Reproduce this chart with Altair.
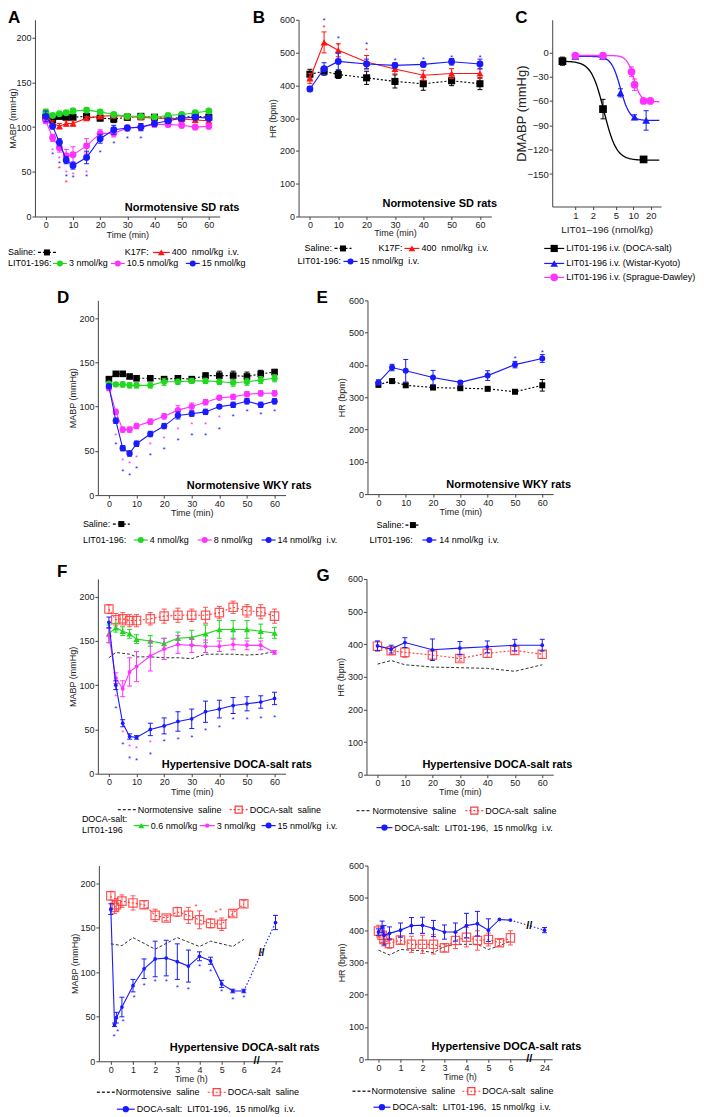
import math
import altair as alt
import pandas as pd

FONT = "Liberation Sans"
BLACK = "#000000"
GREEN = "#1fd81f"
RED = "#ff1414"
DRED = "#ff3b3b"
MAGENTA = "#ff33ff"
BLUE = "#1a1aff"
NGREY = "#333333"

# ---------------- Panel A : MABP, normotensive SD rats ----------------
A_t = [0, 2.5, 5, 7.5, 10, 15, 20, 25, 30, 35, 40, 45, 50, 55, 60]
A_saline = [111, 108, 112, 111, 111, 112, 110, 109, 111, 112, 111, 109, 111, 112, 111]
A_saline_e = [3, 3, 2, 3, 2, 3, 3, 4, 3, 3, 3, 3, 3, 3, 3]
A_k17f = [115, 104, 101, 104, 104, 110, 112, 113, 112, 111, 110, 110, 109, 108, 107]
A_k17f_e = [3, 3, 3, 3, 3, 2, 2, 3, 3, 3, 3, 3, 3, 3, 3]
A_lit3 = [117, 113, 115, 116, 118, 119, 117, 114, 112, 112, 111, 113, 114, 116, 118]
A_lit3_e = [3, 2, 2, 2, 3, 3, 2, 2, 2, 2, 2, 2, 2, 2, 2]
A_lit105 = [107, 88, 77, 68, 69, 79, 93, 93, 99, 100, 103, 103, 102, 100, 101]
A_lit105_e = [3, 4, 5, 7, 9, 8, 4, 4, 3, 4, 3, 3, 3, 3, 3]
A_lit15 = [112, 101, 83, 63, 57, 66, 87, 97, 99, 100, 104, 107, 110, 111, 110]
A_lit15_e = [6, 3, 4, 4, 4, 7, 5, 5, 3, 4, 3, 3, 3, 3, 3]
A_star_blue_t = [2.5, 5, 7.5, 10, 15, 20, 25, 30, 35]
A_star_blue_y = [72, 62, 47, 46, 47, 74, 84, 90, 90]
A_star_mag_t = [2.5, 5, 7.5, 10, 15]
A_star_mag_y = [77, 68, 52, 50, 52]
A_star_red_t = [5, 7.5]
A_star_red_y = [57, 41]

# ---------------- Panel B : HR, normotensive SD rats ----------------
B_t = [0, 5, 10, 20, 30, 40, 50, 60]
B_saline = [434, 443, 433, 423, 412, 405, 414, 405]
B_saline_e = [15, 12, 12, 20, 20, 20, 15, 18]
B_k17f = [421, 531, 507, 471, 450, 431, 436, 436]
B_k17f_e = [15, 32, 20, 20, 15, 15, 15, 15]
B_lit15 = [389, 451, 473, 465, 461, 464, 472, 465]
B_lit15_e = [8, 18, 25, 15, 8, 8, 10, 15]
B_star_blue_t = [5, 10, 20, 30, 40, 50, 60]
B_star_blue_y = [605, 551, 532, 483, 488, 493, 493]
B_star_red_t = [5, 10, 20]
B_star_red_y = [585, 530, 514]

# ---------------- Panel C : dose response ----------------
C_doca_x = [0.6, 3, 15]
C_doca_y = [-11, -70, -132]
C_doca_e = [5, 12, 2]
C_wky_x = [1, 3, 6, 10.5, 16.6]
C_wky_y = [-5, -5, -50, -80, -84]
C_wky_e = [2, 2, 5, 3, 12]
C_sd_x = [1, 3, 9.3, 10.5, 15, 19.6]
C_sd_y = [-4, -4, -24, -40, -60, -60]
C_sd_e = [2, 2, 6, 7, 3, 2]
C_fit_top = [-11, -5, -4]
C_fit_bottom = [-133, -84, -61]
C_fit_ec50 = [3.1, 6.0, 10.2]
C_fit_hill = [4.0, 5.5, 7.0]
C_fit_from = [0.6, 1, 1]
C_fit_to = [28, 28, 28]

# ---------------- Panel D : MABP, WKY ----------------
D_t = [0, 2.5, 5, 7.5, 10, 15, 20, 25, 30, 35, 40, 45, 50, 55, 60]
D_saline = [131, 137, 137, 134, 132, 132, 131, 132, 131, 135, 135, 135, 134, 137, 139]
D_saline_e = [2, 2, 2, 2, 2, 2, 2, 3, 3, 3, 5, 5, 5, 4, 3]
D_lit4 = [126, 125, 125, 124, 124, 124, 128, 128, 129, 129, 128, 127, 128, 130, 132]
D_lit4_e = [2, 2, 3, 3, 3, 3, 4, 3, 3, 3, 3, 4, 4, 4, 4]
D_lit8 = [121, 94, 74, 74, 78, 83, 89, 96, 100, 105, 110, 111, 114, 115, 115]
D_lit8_e = [3, 3, 3, 3, 3, 3, 3, 5, 4, 3, 2, 3, 3, 3, 3]
D_lit14 = [123, 84, 53, 47, 58, 69, 78, 90, 92, 94, 100, 102, 106, 102, 106]
D_lit14_e = [2, 3, 3, 3, 3, 3, 3, 4, 3, 3, 2, 3, 3, 3, 3]
D_star_blue_t = [2.5, 5, 7.5, 10, 15, 20, 25, 30, 35, 40, 45, 50, 55, 60]
D_star_blue_y = [60, 29, 25, 33, 47, 54, 65, 70, 70, 77, 92, 97, 94, 97]
D_star_mag_t = [2.5, 5, 7.5, 10, 15, 20, 25, 30, 35, 40]
D_star_mag_y = [70, 42, 38, 45, 60, 67, 77, 83, 83, 90]

# ---------------- Panel E : HR, WKY ----------------
E_t = [0, 5, 10, 20, 30, 40, 50, 60]
E_saline = [339, 350, 337, 330, 328, 326, 317, 337]
E_saline_e = [8, 6, 5, 5, 4, 4, 4, 18]
E_lit14 = [346, 392, 382, 361, 346, 367, 401, 420]
E_lit14_e = [8, 10, 35, 22, 5, 15, 10, 12]
E_star_blue_t = [50, 60]
E_star_blue_y = [428, 447]

# ---------------- Panel F : MABP, DOCA-salt (min) ----------------
F_t = [0, 2.5, 5, 7.5, 10, 15, 20, 25, 30, 35, 40, 45, 50, 55, 60]
F_norm = [131, 137, 136, 135, 132, 132, 131, 131, 130, 135, 135, 135, 134, 135, 138]
F_doca = [186, 174, 175, 173, 173, 175, 178, 179, 179, 179, 182, 188, 184, 183, 178]
F_doca_e = [5, 7, 7, 7, 7, 7, 8, 8, 7, 9, 7, 7, 7, 8, 8]
F_lit06 = [158, 165, 161, 158, 152, 150, 147, 153, 154, 158, 163, 163, 163, 161, 159]
F_lit06_e = [10, 5, 5, 5, 5, 6, 6, 7, 8, 10, 10, 10, 10, 8, 6]
F_lit3 = [156, 108, 96, 115, 121, 133, 141, 146, 145, 144, 144, 146, 145, 145, 137]
F_lit3_e = [8, 6, 9, 16, 17, 17, 12, 10, 8, 7, 6, 6, 5, 5, 2]
F_lit15 = [171, 100, 57, 42, 41, 50, 54, 59, 62, 70, 73, 77, 79, 81, 85]
F_lit15_e = [6, 5, 4, 3, 2, 7, 9, 11, 11, 12, 10, 9, 8, 7, 7]
F_star_blue_t = [2.5, 5, 7.5, 10, 15, 20, 25, 30, 35, 40, 45, 50, 55, 60]
F_star_blue_y = [77, 36, 20, 18, 25, 39, 42, 44, 52, 55, 64, 64, 65, 66]
F_star_mag_t = [2.5, 5, 7.5, 10, 15]
F_star_mag_y = [90, 49, 33, 31, 38]

# ---------------- Panel G : HR, DOCA-salt (min) ----------------
G_t = [0, 5, 10, 20, 30, 40, 50, 60]
G_norm = [339, 350, 337, 330, 328, 326, 317, 337]
G_doca = [394, 380, 375, 367, 356, 372, 381, 369]
G_doca_e = [15, 12, 15, 15, 8, 12, 12, 12]
G_lit15 = [395, 385, 405, 383, 388, 392, 397, 397]
G_lit15_e = [15, 12, 15, 33, 20, 18, 18, 18]

# ---------------- Panel H : MABP, DOCA-salt (h) ----------------
H_t = [0, 0.167, 0.25, 0.5, 1, 1.5, 2, 2.5, 3, 3.5, 4, 4.5, 5, 5.5, 6, 24]
H_lit15 = [171, 41, 49, 61, 85, 104, 115, 116, 112, 107, 118, 113, 87, 79, 79, 156]
H_lit15_e = [6, 2, 6, 11, 7, 11, 20, 20, 20, 18, 5, 4, 4, 2, 2, 8]
H_doca_t = [0, 0.167, 0.25, 0.5, 1, 1.5, 2, 2.5, 3, 3.5, 4, 4.5, 5, 5.5, 6]
H_doca = [186, 173, 176, 180, 178, 176, 164, 161, 168, 164, 159, 155, 154, 166, 177]
H_doca_e = [5, 7, 7, 7, 8, 4, 7, 3, 5, 9, 10, 5, 7, 3, 4]
H_norm_t = [0, 0.5, 1, 2, 3, 4, 4.5, 5.5, 6]
H_norm = [132, 130, 139, 126, 139, 129, 135, 129, 137]
H_star_blue_t = [0.15, 0.3, 0.55, 1.05, 1.5, 2, 2.5, 3, 3.5, 4, 4.5, 5, 5.5, 6]
H_star_blue_y = [31, 36, 47, 74, 88, 92, 92, 86, 83, 109, 104, 81, 72, 74]
H_star_red_t = [3.85, 4.75, 4.95]
H_star_red_y = [177, 170, 172]
H_break_t = [6.58, 6.8]
H_break_y = [0, 122]

# ---------------- Panel I : HR, DOCA-salt (h) ----------------
I_t = [0, 0.167, 0.25, 0.5, 1, 1.5, 2, 2.5, 3, 3.5, 4, 4.5, 5, 5.5, 6, 24]
I_lit15 = [394, 410, 384, 390, 400, 414, 415, 405, 394, 394, 414, 420, 400, 433, 431, 400]
I_lit15_e = [10, 18, 30, 20, 22, 25, 25, 25, 22, 28, 38, 38, 35, 0, 0, 8]
I_doca_t = [0, 0.167, 0.25, 0.5, 1, 1.5, 2, 2.5, 3, 3.5, 4, 4.5, 5, 5.5, 6]
I_doca = [397, 384, 371, 359, 369, 356, 356, 356, 345, 368, 378, 368, 371, 361, 376]
I_doca_e = [18, 22, 20, 15, 12, 25, 28, 30, 12, 25, 30, 30, 20, 10, 22]
I_norm_t = [0, 0.5, 1, 2, 2.5, 3, 3.5, 4.5, 5, 5.5, 6]
I_norm = [338, 323, 340, 336, 330, 350, 356, 356, 340, 352, 366]
I_break_t = [6.86, 6.86]
I_break_y = [0, 414]

MIN_TICKS = [0, 10, 20, 30, 40, 50, 60]
DUMMY = pd.DataFrame({"d": [0]})


def nb(s):
    return s.replace("  ", "\u00a0 ")


class Panel:
    def __init__(self, w, h, xdom, ydom, xvals, yvals, xtitle, ytitle, ytx,
                 xty=17, p24=None, xlog=False, label_size=9, xtitle_size=9, ytitle_size=9):
        self.w, self.h, self.p24 = w, h, p24
        self.layers = []
        xkw = dict(values=xvals, title=xtitle, titleY=xty, titleBaseline="middle",
                   titleFontSize=xtitle_size, labelFontSize=label_size, labelOverlap=False)
        if p24 is not None:
            xkw["labelExpr"] = "datum.value > 7 ? '24' : datum.label"
        if xlog:
            xkw["format"] = "~g"
            self.xs = alt.Scale(type="log", domain=xdom, nice=False)
        else:
            self.xs = alt.Scale(domain=xdom, nice=False, zero=False)
        self.ys = alt.Scale(domain=ydom, nice=False, zero=False)
        self.xa = alt.Axis(**xkw)
        self.ya = alt.Axis(values=yvals, title=ytitle, titleX=ytx, titleY=h / 2,
                           titleBaseline="middle", titleAngle=270, titleFontSize=ytitle_size,
                           labelFontSize=label_size, labelOverlap=False)

    def X(self, f="pos"):
        return alt.X(f"{f}:Q", scale=self.xs, axis=self.xa)

    def Y(self, f="y"):
        return alt.Y(f"{f}:Q", scale=self.ys, axis=self.ya)

    def base(self, d):
        expr = "datum.t" if self.p24 is None else f"datum.t > 12 ? {self.p24} : datum.t"
        return alt.Chart(pd.DataFrame(d)).transform_calculate(pos=expr)

    def series(self, t, y, e, color, shape=None, size=40, filled=True, dash=None,
               lw=1.1, line=True, split=None, op=1.0, capw=2.5):
        n = len(t)
        b = self.base({"t": t, "y": y, "e": e if e is not None else [0] * n})
        if line:
            lk = dict(color=color, strokeWidth=lw)
            if dash:
                lk["strokeDash"] = dash
            if split is None:
                self.layers.append(b.mark_line(**lk).encode(x=self.X(), y=self.Y()))
            else:
                self.layers.append(b.transform_filter(f"datum.t <= {split}")
                                   .mark_line(**lk).encode(x=self.X(), y=self.Y()))
                self.layers.append(b.transform_filter(f"datum.t >= {split}")
                                   .mark_line(color=color, strokeWidth=lw, strokeDash=[1.5, 2])
                                   .encode(x=self.X(), y=self.Y()))
        if e is not None:
            eb = b.transform_filter("datum.e > 0").transform_calculate(
                lo="datum.y - datum.e", hi="datum.y + datum.e")
            self.layers.append(eb.mark_rule(color=color, strokeWidth=1, opacity=op)
                               .encode(x=self.X(), y=self.Y("lo"), y2="hi:Q"))
            self.layers.append(eb.transform_fold(["lo", "hi"], as_=["k", "v"])
                               .mark_rule(color=color, strokeWidth=1, xOffset=-capw,
                                          x2Offset=capw, opacity=op)
                               .encode(x=self.X(), x2="pos:Q", y=self.Y("v")))
        if shape:
            pk = dict(shape=shape, size=size, filled=filled, color=color, opacity=op)
            if not filled:
                pk["strokeWidth"] = 1.2
            self.layers.append(b.mark_point(**pk).encode(x=self.X(), y=self.Y()))

    def curve(self, lo, hi, top, bottom, ec50, hill, color):
        l0, l1 = math.log10(lo), math.log10(hi)
        c = (alt.Chart(alt.sequence(0, 1.0001, 0.01, as_="u"))
             .transform_calculate(pos=f"pow(10, {l0} + datum.u * {l1 - l0})")
             .transform_calculate(y=f"({bottom}) + (({top}) - ({bottom})) / (1 + pow(datum.pos / {ec50}, {hill}))"))
        self.layers.append(c.mark_line(color=color, strokeWidth=1.3).encode(x=self.X(), y=self.Y()))

    def stars(self, t, y, color, size=8):
        b = self.base({"t": t, "y": y})
        self.layers.append(b.mark_text(text="*", color=color, fontSize=size, font=FONT,
                                       baseline="middle", dy=3).encode(x=self.X(), y=self.Y()))

    def breaks(self, t, y):
        b = self.base({"t": t, "y": y})
        self.layers.append(b.mark_text(text="//", color="black", fontSize=11, font=FONT,
                                       fontWeight="bold", baseline="middle")
                           .encode(x=self.X(), y=self.Y()))

    def text(self, x, y, s, size=9, weight="normal", color="black", align="left", baseline="middle"):
        self.layers.append(alt.Chart(DUMMY).mark_text(
            text=nb(s), fontSize=size, fontWeight=weight, color=color, align=align,
            baseline=baseline, font=FONT).encode(x=alt.value(x), y=alt.value(y)))

    def icon(self, x1, x2, y, color, shape=None, size=40, filled=True, dash=None, lw=1.2, xm=None):
        rk = dict(color=color, strokeWidth=lw)
        if dash:
            rk["strokeDash"] = dash
        self.layers.append(alt.Chart(DUMMY).mark_rule(**rk).encode(
            x=alt.value(x1), x2=alt.value(x2), y=alt.value(y)))
        if shape:
            pk = dict(shape=shape, size=size, filled=filled, color=color, opacity=1)
            if not filled:
                pk["strokeWidth"] = 1.2
            self.layers.append(alt.Chart(DUMMY).mark_point(**pk).encode(
                x=alt.value(xm if xm is not None else (x1 + x2) / 2), y=alt.value(y)))

    def anchor(self, x, y, baseline):
        self.layers.append(alt.Chart(DUMMY).mark_text(
            text=" ", fontSize=1, opacity=0, baseline=baseline, align="left").encode(
            x=alt.value(x), y=alt.value(y)))

    def chart(self):
        return alt.layer(*self.layers).properties(width=self.w, height=self.h)


def spacer(w):
    return alt.Chart(DUMMY).mark_text(text=" ", fontSize=1, opacity=0).encode(
        x=alt.value(0), y=alt.value(0)).properties(width=w, height=1)


# ================= Panel A =================
pa = Panel(185, 197, [-4, 64], [0, 220], MIN_TICKS, [0, 50, 100, 150, 200],
           "Time (min)", "MABP (mmHg)", -22, xty=18)
pa.series(A_t, A_saline, A_saline_e, BLACK, "square", 50, dash=[2, 2])
pa.series(A_t, A_k17f, A_k17f_e, RED, "triangle-up", 50)
pa.series(A_t, A_lit3, A_lit3_e, GREEN, "circle", 48)
pa.series(A_t, A_lit105, A_lit105_e, MAGENTA, "circle", 48)
pa.series(A_t, A_lit15, A_lit15_e, BLUE, "circle", 48)
pa.stars(A_star_mag_t, A_star_mag_y, MAGENTA)
pa.stars(A_star_blue_t, A_star_blue_y, BLUE)
pa.stars(A_star_red_t, A_star_red_y, RED)
pa.text(90, 188, "Normotensive SD rats", size=11, weight="bold")
pa.text(-27, -10, "A", size=17, weight="bold", baseline="top")
pa.text(-27, 233, "Saline:")
pa.icon(3, 21, 233, BLACK, "square", 36, dash=[3, 2])
pa.text(90, 233, "K17F:")
pa.icon(118, 135, 233, RED, "triangle-up", 45)
pa.text(137, 233, "400  nmol/kg  i.v.")
pa.text(-27, 244, "LIT01-196:")
pa.icon(18, 32, 244, GREEN, "circle", 36)
pa.text(34, 244, "3 nmol/kg")
pa.icon(76, 90, 244, MAGENTA, "circle", 36)
pa.text(92, 244, "10.5 nmol/kg")
pa.icon(151, 165, 244, BLUE, "circle", 36)
pa.text(167, 244, "15 nmol/kg")
pa.anchor(-27, -10, "top")
pa.anchor(-27, 268, "bottom")

# ================= Panel B =================
pb = Panel(193, 197, [-4, 64], [0, 600], MIN_TICKS, [0, 100, 200, 300, 400, 500, 600],
           "Time (min)", "HR (bpm)", -26, xty=16)
pb.series(B_t, B_saline, B_saline_e, BLACK, "square", 50, dash=[2, 2])
pb.series(B_t, B_k17f, B_k17f_e, RED, "triangle-up", 50)
pb.series(B_t, B_lit15, B_lit15_e, BLUE, "circle", 48)
pb.stars(B_star_red_t, B_star_red_y, RED)
pb.stars(B_star_blue_t, B_star_blue_y, BLUE)
pb.text(84, 184, "Normotensive SD rats", size=11, weight="bold")
pb.text(-46, -10, "B", size=17, weight="bold", baseline="top")
pb.text(6, 229, "Saline:")
pb.icon(36, 53, 229, BLACK, "square", 36, dash=[3, 2])
pb.text(80, 229, "K17F:")
pb.icon(106, 121, 229, RED, "triangle-up", 45)
pb.text(123, 229, "400  nmol/kg  i.v.")
pb.text(-1, 242, "LIT01-196:")
pb.icon(45, 59, 242, BLUE, "circle", 36)
pb.text(61, 242, "15 nmol/kg  i.v.")

# ================= Panel C =================
pc = Panel(109, 187, [0.4, 30], [-190, 40], [1, 2, 5, 10, 20], [0, -30, -60, -90, -120, -150],
           "LIT01\u2013196 (nmol/kg)", "DMABP (mmHg)", -31, xty=23, xlog=True,
           label_size=9.5, xtitle_size=10, ytitle_size=13)
C_colors = [BLACK, BLUE, MAGENTA]
for i in range(3):
    pc.curve(C_fit_from[i], C_fit_to[i], C_fit_top[i], C_fit_bottom[i],
             C_fit_ec50[i], C_fit_hill[i], C_colors[i])
pc.series(C_doca_x, C_doca_y, C_doca_e, BLACK, "square", 60, line=False)
pc.series(C_wky_x, C_wky_y, C_wky_e, BLUE, "triangle-up", 60, line=False)
pc.series(C_sd_x, C_sd_y, C_sd_e, MAGENTA, "circle", 60, line=False)
pc.text(-37, -10, "C", size=17, weight="bold", baseline="top")
pc.icon(-8, 12, 229, BLACK, "square", 52)
pc.text(14, 229, "LIT01-196 i.v. (DOCA-salt)")
pc.icon(-8, 12, 244, BLUE, "triangle-up", 58)
pc.text(14, 244, "LIT01-196 i.v. (Wistar-Kyoto)")
pc.icon(-8, 12, 258, MAGENTA, "circle", 58)
pc.text(14, 258, "LIT01-196 i.v. (Sprague-Dawley)")

row1 = alt.hconcat(pa.chart(), spacer(79), pb.chart(), spacer(61), pc.chart(),
                   spacing=0, bounds="flush")

# ================= Panel D =================
pd_ = Panel(188, 195, [-4, 64], [0, 220], MIN_TICKS, [0, 50, 100, 150, 200],
            "Time (min)", "MABP (mmHg)", -25)
pd_.series(D_t, D_saline, D_saline_e, BLACK, "square", 44, dash=[2, 2])
pd_.series(D_t, D_lit4, D_lit4_e, GREEN, "circle", 40)
pd_.series(D_t, D_lit8, D_lit8_e, MAGENTA, "circle", 40)
pd_.series(D_t, D_lit14, D_lit14_e, BLUE, "circle", 40)
pd_.stars(D_star_mag_t, D_star_mag_y, MAGENTA, 8)
pd_.stars(D_star_blue_t, D_star_blue_y, BLUE, 8)
pd_.text(89, 186, "Normotensive WKY rats", size=11, weight="bold")
pd_.text(-41, -10, "D", size=17, weight="bold", baseline="top")
pd_.text(-15, 224, "Saline:")
pd_.icon(15, 32, 224, BLACK, "square", 36, dash=[3, 2])
pd_.text(-15, 240, "LIT01-196:")
pd_.icon(36, 50, 240, GREEN, "circle", 36)
pd_.text(52, 240, "4 nmol/kg")
pd_.icon(100, 114, 240, MAGENTA, "circle", 36)
pd_.text(116, 240, "8 nmol/kg")
pd_.icon(164, 178, 240, BLUE, "circle", 36)
pd_.text(180, 240, "14 nmol/kg  i.v.")
pd_.anchor(0, -13, "top")
pd_.anchor(0, 261, "bottom")

# ================= Panel E =================
pe = Panel(186, 194, [-4, 64], [0, 600], MIN_TICKS, [0, 100, 200, 300, 400, 500, 600],
           "Time (min)", "HR (bpm)", -26)
pe.series(E_t, E_saline, E_saline_e, BLACK, "square", 36, dash=[2, 2])
pe.series(E_t, E_lit14, E_lit14_e, BLUE, "circle", 36)
pe.stars(E_star_blue_t, E_star_blue_y, BLUE, 8)
pe.text(79, 185, "Normotensive WKY rats", size=11, weight="bold")
pe.text(-51, -10, "E", size=17, weight="bold", baseline="top")
pe.text(9, 225, "Saline:")
pe.icon(38, 53, 225, BLACK, "square", 36, dash=[3, 2])
pe.text(2, 240, "LIT01-196:")
pe.icon(55, 69, 240, BLUE, "circle", 36)
pe.text(72, 240, "14 nmol/kg  i.v.")

row2 = alt.hconcat(spacer(63), pd_.chart(), spacer(82), pe.chart(), spacing=0, bounds="flush")

# ================= Panel F =================
pf = Panel(188, 195, [-4, 64], [0, 220], MIN_TICKS, [0, 50, 100, 150, 200],
           "Time (min)", "MABP (mmHg)", -25, xty=18)
pf.series(F_t, F_norm, None, NGREY, None, dash=[3, 2], lw=1)
pf.series(F_t, F_doca, F_doca_e, DRED, "square", 70, filled=False, dash=[2, 2], op=0.85)
pf.series(F_t, F_lit06, F_lit06_e, GREEN, "triangle-up", 40)
pf.series(F_t, F_lit3, F_lit3_e, MAGENTA, "circle", 16)
pf.series(F_t, F_lit15, F_lit15_e, BLUE, "circle", 14)
pf.stars(F_star_mag_t, F_star_mag_y, MAGENTA, 8)
pf.stars(F_star_blue_t, F_star_blue_y, BLUE, 8)
pf.text(64, 186, "Hypertensive DOCA-salt rats", size=11, weight="bold")
pf.text(-41, -15, "F", size=17, weight="bold", baseline="top")
pf.icon(20, 38, 231, NGREY, dash=[3, 2], lw=1.3)
pf.text(40, 231, "Normotensive  saline")
pf.icon(132, 150, 231, DRED, "square", 50, filled=False, dash=[2, 2])
pf.text(152, 231, "DOCA-salt  saline")
pf.text(-16, 240, "DOCA-salt:")
pf.text(-16, 251, "LIT01-196")
pf.icon(36, 51, 247, GREEN, "triangle-up", 38)
pf.text(53, 247, "0.6 nmol/kg")
pf.icon(102, 117, 247, MAGENTA, "circle", 20)
pf.text(119, 247, "3 nmol/kg")
pf.icon(164, 178, 247, BLUE, "circle", 36)
pf.text(180, 247, "15 nmol/kg  i.v.")
pf.anchor(0, -18, "top")
pf.anchor(0, 272, "bottom")

# ================= Panel G =================
pg = Panel(187, 196, [-4, 64], [0, 600], MIN_TICKS, [0, 100, 200, 300, 400, 500, 600],
           "Time (min)", "HR (bpm)", -26, xty=17)
pg.series(G_t, G_norm, None, NGREY, None, dash=[3, 2], lw=1)
pg.series(G_t, G_doca, G_doca_e, DRED, "square", 70, filled=False, dash=[2, 2], op=0.85)
pg.series(G_t, G_lit15, G_lit15_e, BLUE, "circle", 14)
pg.text(56, 186, "Hypertensive DOCA-salt rats", size=11, weight="bold")
pg.text(-50, -11, "G", size=17, weight="bold", baseline="top")
pg.icon(-10, 5, 232, NGREY, dash=[3, 2], lw=1.3)
pg.text(6, 232, "Normotensive  saline")
pg.icon(99, 117, 232, DRED, "square", 50, filled=False, dash=[2, 2])
pg.text(119, 232, "DOCA-salt  saline")
pg.icon(10, 26, 249, BLUE, "circle", 40)
pg.text(28, 249, "DOCA-salt:  LIT01-196,  15 nmol/kg  i.v.")

row3 = alt.hconcat(spacer(63), pf.chart(), spacer(81), pg.chart(), spacing=0, bounds="flush")

# ================= Panel H =================
ph = Panel(184, 196, [-0.54, 7.75], [0, 220], [0, 1, 2, 3, 4, 5, 6, 7.43], [0, 50, 100, 150, 200],
           "Time (h)", "MABP (mmHg)", -24, p24=7.43)
ph.series(H_norm_t, H_norm, None, NGREY, None, dash=[3, 2], lw=1)
ph.series(H_doca_t, H_doca, H_doca_e, DRED, "square", 70, filled=False, dash=[2, 2], op=0.85)
ph.series(H_t, H_lit15, H_lit15_e, BLUE, "circle", 14, split=6)
ph.stars(H_star_red_t, H_star_red_y, DRED, 8)
ph.stars(H_star_blue_t, H_star_blue_y, BLUE, 8)
ph.breaks(H_break_t, H_break_y)
ph.text(71, 183, "Hypertensive DOCA-salt rats", size=11, weight="bold")
ph.icon(-2, 16, 227, NGREY, dash=[3, 2], lw=1.3)
ph.text(17, 227, "Normotensive  saline")
ph.icon(109, 127, 227, DRED, "square", 50, filled=False, dash=[2, 2])
ph.text(129, 227, "DOCA-salt  saline")
ph.icon(18, 36, 244, BLUE, "circle", 40)
ph.text(38, 244, "DOCA-salt:  LIT01-196,  15 nmol/kg  i.v.")
ph.anchor(0, -15, "top")

# ================= Panel I =================
pi = Panel(185, 194, [-0.5, 7.9], [0, 600], [0, 1, 2, 3, 4, 5, 6, 7.55],
           [0, 100, 200, 300, 400, 500, 600], "Time (h)", "HR (bpm)", -26, p24=7.55)
pi.series(I_norm_t, I_norm, None, NGREY, None, dash=[3, 2], lw=1)
pi.series(I_doca_t, I_doca, I_doca_e, DRED, "square", 70, filled=False, dash=[2, 2], op=0.85)
pi.series(I_t, I_lit15, I_lit15_e, BLUE, "circle", 14, split=6)
pi.breaks(I_break_t, I_break_y)
pi.text(64, 182, "Hypertensive DOCA-salt rats", size=11, weight="bold")
pi.icon(-15, 3, 226, NGREY, dash=[3, 2], lw=1.3)
pi.text(4, 226, "Normotensive  saline")
pi.icon(95, 113, 226, DRED, "square", 50, filled=False, dash=[2, 2])
pi.text(115, 226, "DOCA-salt  saline")
pi.icon(6, 23, 242, BLUE, "circle", 40)
pi.text(25, 242, "DOCA-salt:  LIT01-196,  15 nmol/kg  i.v.")

row4 = alt.hconcat(spacer(64), ph.chart(), spacer(85), pi.chart(), spacing=0, bounds="flush")

chart = (
    alt.vconcat(row1, row2, row3, row4, spacing=0)
    .properties(padding=0)
    .configure_view(strokeWidth=0)
    .configure_axis(domainColor="#444444", tickColor="#444444", labelColor="#222222",
                    titleColor="#222222", grid=False, labelFont=FONT, titleFont=FONT,
                    labelFontSize=9, titleFontSize=9, titleFontWeight="normal",
                    tickSize=3, labelPadding=1, domainWidth=1, tickWidth=1)
)

chart.save("out.html", embed_options={"renderer": "svg", "actions": False})
